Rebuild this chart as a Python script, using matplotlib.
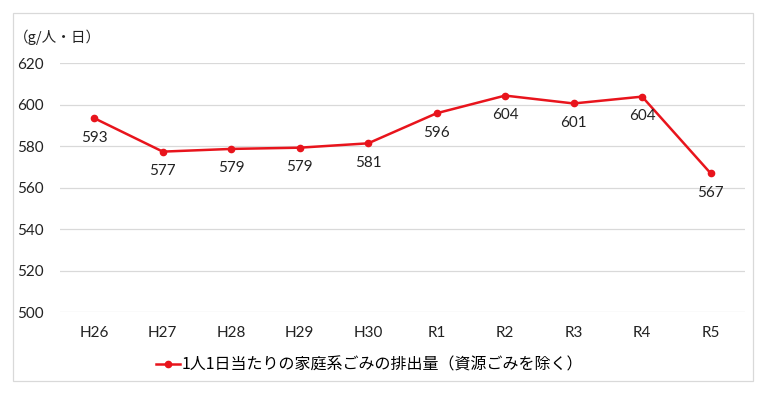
import matplotlib
matplotlib.use('Agg')
import matplotlib.pyplot as plt
from matplotlib.patches import Rectangle

plt.rcParams['font.family'] = ['Lato', 'Noto Sans CJK JP', 'DejaVu Sans']

years = ['H26', 'H27', 'H28', 'H29', 'H30', 'R1', 'R2', 'R3', 'R4', 'R5']
values = [593.4, 577.3, 578.6, 579.2, 581.3, 595.8, 604.3, 600.5, 603.8, 566.9]
labels = ['593', '577', '579', '579', '581', '596', '604', '601', '604', '567']
yticks = [500, 520, 540, 560, 580, 600, 620]

red = '#e8141c'
jp = ['Noto Sans CJK JP', 'DejaVu Sans']

fig = plt.figure(figsize=(7.6, 3.95), dpi=100)
ax = fig.add_axes([0.079, 0.21, 0.901, 0.6305])

x = list(range(len(years)))
ax.plot(x, values, color=red, lw=1.8, marker='o', ms=4.5,
        label='1人1日当たりの家庭系ごみの排出量（資源ごみを除く）')
for xi, v, t in zip(x, values, labels):
    ax.annotate(t, (xi, v), xytext=(0, -9), textcoords='offset points',
                ha='center', va='top', fontsize=11, color='#222222')

ax.set_xlim(-0.5, len(years) - 0.5)
ax.set_ylim(500, 620)
ax.set_yticks(yticks)
ax.set_xticks(x)
ax.set_xticklabels(years)
ax.tick_params(length=0, labelsize=11, colors='#222222')
ax.tick_params(axis='y', pad=12)
ax.tick_params(axis='x', pad=10)
ax.grid(axis='y', color='#d9d9d9', lw=0.9)
ax.set_axisbelow(True)
for s in ax.spines.values():
    s.set_visible(False)

fig.text(0.018, 0.905, '（g/人・日）', fontsize=10.5, color='#222222',
         va='center', family=jp)

leg = ax.legend(loc='center', bbox_to_anchor=(0.452, -0.213), frameon=False,
                fontsize=11.5, handlelength=1.5, handletextpad=0.1,
                prop={'family': jp, 'size': 11.5})

fig.patches.append(Rectangle((13 / 760, 1 - 381 / 395), 740 / 760, 368 / 395,
                             transform=fig.transFigure, fill=False,
                             edgecolor='#d9d9d9', lw=0.9))

fig.savefig('out.png', dpi=100)
